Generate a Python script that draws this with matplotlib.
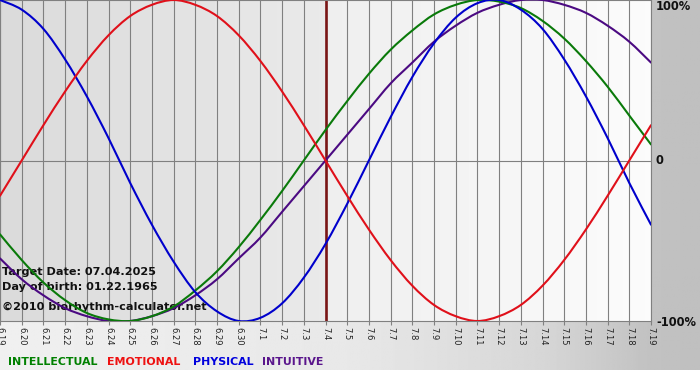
import numpy as np
import matplotlib
matplotlib.use("Agg")
import matplotlib.pyplot as plt
from matplotlib.path import Path
from matplotlib.patches import PathPatch

# ---- data ----
day_labels = ["6.19", "6.20", "6.21", "6.22", "6.23", "6.24", "6.25", "6.26", "6.27",
              "6.28", "6.29", "6.30", "7.1", "7.2", "7.3", "7.4", "7.5", "7.6", "7.7",
              "7.8", "7.9", "7.10", "7.11", "7.12", "7.13", "7.14", "7.15", "7.16",
              "7.17", "7.18", "7.19"]
target_label = "7.4"

physical = [1.00, 0.94, 0.82, 0.63, 0.40, 0.14, -0.14, -0.40, -0.63, -0.82, -0.94,
            -1.00, -0.98, -0.89, -0.73, -0.52, -0.27, 0.00, 0.27, 0.52, 0.73, 0.89,
            0.98, 1.00, 0.94, 0.82, 0.63, 0.40, 0.14, -0.14, -0.40]
emotional = [-0.22, 0.00, 0.22, 0.43, 0.62, 0.78, 0.90, 0.97, 1.00, 0.97, 0.90, 0.78,
             0.62, 0.43, 0.22, 0.00, -0.22, -0.43, -0.62, -0.78, -0.90, -0.97, -1.00,
             -0.97, -0.90, -0.78, -0.62, -0.43, -0.22, 0.00, 0.22]
intellectual = [-0.46, -0.62, -0.76, -0.87, -0.95, -0.99, -1.00, -0.97, -0.91, -0.81,
                -0.69, -0.54, -0.37, -0.19, 0.00, 0.19, 0.37, 0.54, 0.69, 0.81, 0.91,
                0.97, 1.00, 0.99, 0.95, 0.87, 0.76, 0.62, 0.46, 0.28, 0.10]
intuitive = [-0.61, -0.74, -0.84, -0.92, -0.97, -1.00, -1.00, -0.97, -0.92, -0.84,
             -0.74, -0.61, -0.48, -0.32, -0.16, 0.00, 0.16, 0.32, 0.48, 0.61, 0.74,
             0.84, 0.92, 0.97, 1.00, 1.00, 0.97, 0.92, 0.84, 0.74, 0.61]

series_names = ["INTELLECTUAL", "EMOTIONAL", "PHYSICAL", "INTUITIVE"]
info_lines = ["Target Date: 07.04.2025", "Day of birth: 01.22.1965",
              "\u00a92010 biorhythm-calculator.net"]
y_labels = ["100%", "0", "-100%"]

# ---- styling ----
W, H = 700, 380
col_int = "#0a7a0a"
col_emo = "#e0101a"
col_phy = "#0000cc"
col_itu = "#4b0a82"
grid_col = "#808080"

fig = plt.figure(figsize=(W / 100, H / 100), dpi=100)
fig.patch.set_facecolor("white")


def fx(x):
    return x / W


def fy(y):
    return 1 - y / H


def smooth_path(xv, yv):
    """Catmull-Rom curve through the data points, drawn as cubic Bezier segments."""
    p = np.column_stack([xv, yv]).astype(float)
    ext = np.vstack([p[0], p, p[-1]])
    verts = [p[0]]
    codes = [Path.MOVETO]
    for i in range(1, len(ext) - 2):
        p0, p1, p2, p3 = ext[i - 1], ext[i], ext[i + 1], ext[i + 2]
        c1 = p1 + (p2 - p0) / 6.0
        c2 = p2 - (p3 - p1) / 6.0
        verts += [c1, c2, p2]
        codes += [Path.CURVE4] * 3
    return Path(verts, codes)


# background gradient (whole figure except bottom white strip)
bg = fig.add_axes([0, 0, 1, 1], zorder=0)
bg.set_xlim(0, W)
bg.set_ylim(H, 0)
bg.axis("off")
xs = np.linspace(0, 1, 400)
vals = np.interp(xs, [0, 0.5, 0.78, 0.93, 1.0], [0.94, 0.91, 0.84, 0.76, 0.75])
grad = np.tile(vals, (2, 1))
bg.imshow(grad, extent=[0, W, 370, 0], aspect="auto", cmap="gray", vmin=0, vmax=1)

# main plot axes
left_px, right_px, top_px, bot_px = 0, 651, 0, 321
ax = fig.add_axes([fx(left_px), fy(bot_px), fx(right_px - left_px),
                   (bot_px - top_px) / H], zorder=1)
ax.patch.set_alpha(0)
n = len(day_labels)
x = np.arange(n)
ti = day_labels.index(target_label)

# background: past darker, future lighter
g1 = np.tile(np.linspace(0.855, 0.915, 100), (2, 1))
g2 = np.tile(np.linspace(0.935, 0.985, 100), (2, 1))
ax.imshow(g1, extent=[0, ti, -1, 1], aspect="auto", cmap="gray", vmin=0, vmax=1, zorder=0)
ax.imshow(g2, extent=[ti, n - 1, -1, 1], aspect="auto", cmap="gray", vmin=0, vmax=1, zorder=0)
ax.set_xlim(0, n - 1)
ax.set_ylim(-1.0, 1.0)

for xi in x:
    ax.axvline(xi, color=grid_col, lw=0.8, zorder=1)
ax.axhline(0, color=grid_col, lw=0.8, zorder=1)
for s in ax.spines.values():
    s.set_color(grid_col)
    s.set_linewidth(0.8)

ax.set_xticks(x)
ax.set_xticklabels(day_labels, rotation=270, fontsize=6, color="#222222",
                   family="DejaVu Sans")
ax.tick_params(axis="x", length=3, width=0.8, color=grid_col, pad=1.5)
ax.set_yticks([])
for lbl in ax.get_xticklabels():
    lbl.set_verticalalignment("top")
    lbl.set_horizontalalignment("center")

# info text (behind curves)
info_y = [272, 287, 307]
for txt, yy in zip(info_lines, info_y):
    ax.text(fx(2), fy(yy), txt, transform=fig.transFigure, fontsize=8.1,
            fontweight="bold", color="#111111", va="center", ha="left",
            zorder=1.5, clip_on=False)

# curves
for vals_s, c in [(intuitive, col_itu), (intellectual, col_int),
                  (physical, col_phy), (emotional, col_emo)]:
    ax.add_patch(PathPatch(smooth_path(x, vals_s), facecolor="none", edgecolor=c,
                           lw=1.5, zorder=3, capstyle="round", joinstyle="round"))

# target date line
ax.axvline(ti, color="#7a1616", lw=1.9, zorder=2.5)

# right-side labels
for txt, yy in zip(y_labels, [7, 161, 322]):
    fig.text(fx(656), fy(yy), txt, fontsize=8.3, fontweight="bold", color="#111111",
             va="center", ha="left")

# legend words
leg_x = [8, 107, 193, 262]
leg_cols = ["#008000", "#ee1111", "#0000dd", "#5a168c"]
for name, lx, c in zip(series_names, leg_x, leg_cols):
    fig.text(fx(lx), fy(362), name, fontsize=7.9, fontweight="bold", color=c,
             va="center", ha="left")

fig.savefig("out.png", dpi=100)
